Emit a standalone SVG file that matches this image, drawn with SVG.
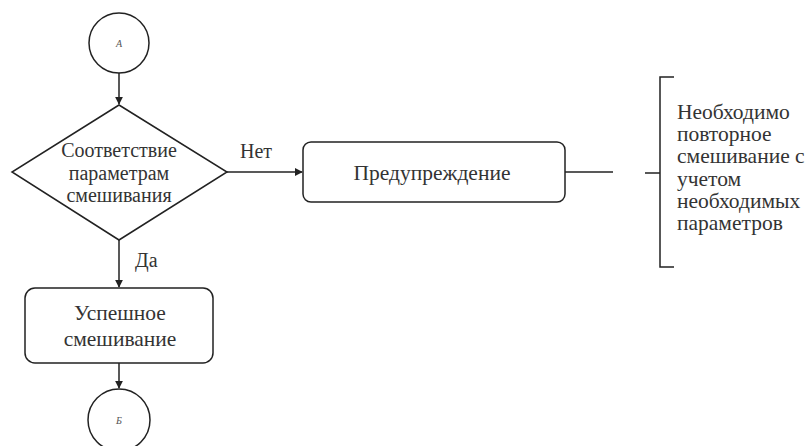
<svg xmlns="http://www.w3.org/2000/svg" width="806" height="446" viewBox="0 0 806 446">
<defs>
<marker id="arr" viewBox="0 0 10 10" refX="9" refY="5" markerWidth="8" markerHeight="8" markerUnits="userSpaceOnUse" orient="auto">
<path d="M0,0 L10,5 L0,10 z" fill="#222"/>
</marker>
<style>
.s{fill:#fff;stroke:#222;stroke-width:1.5}
.l{fill:none;stroke:#222;stroke-width:1.5}
.t{font-family:'Liberation Serif','Times New Roman',serif;font-size:20px;fill:#333}
.n{font-size:21.5px}
.c{text-anchor:middle}
.sm{font-family:'Liberation Serif',serif;font-style:italic;font-size:10px;fill:#555;text-anchor:middle}
</style>
</defs>
<rect width="806" height="446" fill="#fff"/>
<g id="connectors">
<line class="l" x1="119" y1="73" x2="119" y2="104" marker-end="url(#arr)"/>
<line class="l" x1="227" y1="172" x2="302" y2="172" marker-end="url(#arr)"/>
<line class="l" x1="119" y1="240" x2="119" y2="287" marker-end="url(#arr)"/>
<line class="l" x1="119" y1="363" x2="119" y2="388" marker-end="url(#arr)"/>
<line class="l" x1="565" y1="172" x2="613" y2="172"/>
<text class="t" x="240" y="158">Нет</text>
<text class="t" x="135" y="267">Да</text>
</g>
<g id="nodeA">
<circle class="s" cx="119" cy="43" r="30"/>
<text class="sm" x="119" y="47">А</text>
</g>
<g id="decision">
<polygon class="s" points="119,105 227,172 119,240 12,172"/>
<text class="t c" x="119" y="157">Соответствие</text>
<text class="t c" x="119" y="180">параметрам</text>
<text class="t c" x="119" y="202">смешивания</text>
</g>
<g id="warning">
<rect class="s" x="303" y="142" width="262" height="60" rx="8"/>
<text class="t n c" x="432" y="180">Предупреждение</text>
</g>
<g id="note">
<path class="l" d="M645,173 H660 M674,77 H660 V267 H674"/>
<text class="t n" x="677" y="119">Необходимо</text>
<text class="t n" x="677" y="141">повторное</text>
<text class="t n" x="677" y="163">смешивание с</text>
<text class="t n" x="677" y="186">учетом</text>
<text class="t n" x="677" y="208">необходимых</text>
<text class="t n" x="677" y="230">параметров</text>
</g>
<g id="success">
<rect class="s" x="25" y="288" width="188" height="75" rx="10"/>
<text class="t n c" x="120" y="320">Успешное</text>
<text class="t n c" x="120" y="346">смешивание</text>
</g>
<g id="nodeB">
<circle class="s" cx="119" cy="420" r="31"/>
<text class="sm" x="119" y="424">Б</text>
</g>
</svg>
